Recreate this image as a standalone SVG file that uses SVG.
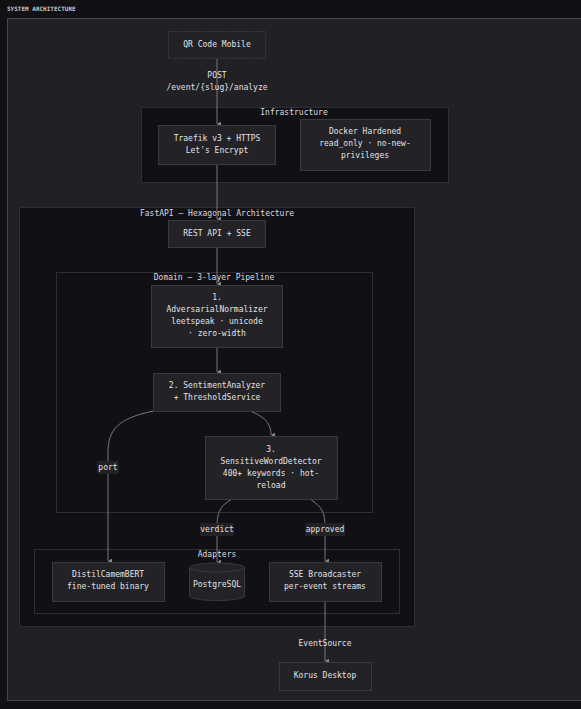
<svg xmlns="http://www.w3.org/2000/svg" width="581" height="709" viewBox="0 0 581 709">
<defs>
<style>
text{font-family:"DejaVu Sans Mono","Liberation Mono",monospace;font-size:8px;fill:#e2e2e6;text-anchor:middle}
.title{font-size:6px;font-weight:bold;text-anchor:start;fill:#c8c8cc}
.cl{fill:#111015;stroke:#2f2e34;stroke-width:1}
.cll{fill:#dcdce0}
.nd{fill:#232227;stroke:#3a393f;stroke-width:1}
.ed{fill:none;stroke:#78777d;stroke-width:1}
.lb{fill:#222126}
</style>
<marker id="ar" viewBox="0 0 6 6" refX="3" refY="5" markerWidth="5" markerHeight="5" orient="auto-start-reverse" markerUnits="userSpaceOnUse">
<path d="M0,0 L6,0 L3,5 Z" fill="#8a898f"/>
</marker>
</defs>
<rect x="0" y="0" width="581" height="709" fill="#111015"/>
<text class="title" x="7" y="11">SYSTEM ARCHITECTURE</text>
<rect x="7.5" y="18.5" width="580" height="682" fill="#212025" stroke="#46454b"/>

<g id="cluster-infrastructure">
<rect class="cl" x="141.5" y="107.5" width="307" height="75"/>
<text class="cll" x="294" y="115">Infrastructure</text>
</g>
<g id="cluster-fastapi">
<rect class="cl" x="19.5" y="207.5" width="395" height="419"/>
<text class="cll" x="217" y="216">FastAPI — Hexagonal Architecture</text>
</g>
<g id="cluster-domain">
<rect class="cl" x="56.5" y="272.5" width="316" height="240"/>
<text class="cll" x="214" y="280">Domain — 3-layer Pipeline</text>
</g>
<g id="cluster-adapters">
<rect class="cl" x="34.5" y="549.5" width="365" height="64"/>
<text class="cll" x="217" y="557">Adapters</text>
</g>

<g id="connectors">
<path class="ed" d="M217,58 L217,124" marker-end="url(#ar)"/>
<text x="217" y="78">POST</text>
<text x="217" y="90">/event/{slug}/analyze</text>
<path class="ed" d="M217,164 L217,219" marker-end="url(#ar)"/>
<path class="ed" d="M217,247 L217,284" marker-end="url(#ar)"/>
<path class="ed" d="M217,347 L217,372" marker-end="url(#ar)"/>
<path class="ed" d="M250,411 C262,416 271,421 271,435" marker-end="url(#ar)"/>
<path class="ed" d="M154,411 C118,418 108,430 108,452 L108,561" marker-end="url(#ar)"/>
<rect class="lb" x="97" y="461" width="22" height="13"/>
<text x="108" y="470">port</text>
<path class="ed" d="M232,499 C220,506 217,512 217,527 L217,562" marker-end="url(#ar)"/>
<rect class="lb" x="200" y="523" width="34" height="13"/>
<text x="217" y="532">verdict</text>
<path class="ed" d="M310,499 C322,507 325,512 325,527 L325,561" marker-end="url(#ar)"/>
<rect class="lb" x="305" y="523" width="40" height="13"/>
<text x="325" y="532">approved</text>
<path class="ed" d="M325,601 L325,661" marker-end="url(#ar)"/>
<text x="325" y="646">EventSource</text>
</g>

<g id="node-qr">
<rect class="nd" x="168.5" y="31.5" width="97" height="27" stroke-dasharray="2,1"/>
<text x="217" y="47">QR Code Mobile</text>
</g>
<g id="node-traefik">
<rect class="nd" x="158.5" y="125.5" width="117" height="39"/>
<text x="217" y="141">Traefik v3 + HTTPS</text>
<text x="217" y="153">Let's Encrypt</text>
</g>
<g id="node-docker">
<rect class="nd" x="300.5" y="119.5" width="130" height="51"/>
<text x="365" y="134">Docker Hardened</text>
<text x="365" y="146">read_only · no-new-</text>
<text x="365" y="158">privileges</text>
</g>
<g id="node-rest">
<rect class="nd" x="168.5" y="220.5" width="97" height="27"/>
<text x="217" y="236">REST API + SSE</text>
</g>
<g id="node-normalizer">
<rect class="nd" x="151.5" y="285.5" width="131" height="62"/>
<text x="217" y="300">1.</text>
<text x="217" y="312">AdversarialNormalizer</text>
<text x="217" y="324">leetspeak · unicode</text>
<text x="217" y="336">· zero-width</text>
</g>
<g id="node-sentiment">
<rect class="nd" x="153.5" y="373.5" width="127" height="38"/>
<text x="217" y="388">2. SentimentAnalyzer</text>
<text x="217" y="400">+ ThresholdService</text>
</g>
<g id="node-detector">
<rect class="nd" x="205.5" y="436.5" width="132" height="63"/>
<text x="271" y="452">3.</text>
<text x="271" y="464">SensitiveWordDetector</text>
<text x="271" y="476">400+ keywords · hot-</text>
<text x="271" y="488">reload</text>
</g>
<g id="node-distil">
<rect class="nd" x="52.5" y="562.5" width="112" height="39"/>
<text x="108" y="577">DistilCamemBERT</text>
<text x="108" y="589">fine-tuned binary</text>
</g>
<g id="node-postgres">
<path class="nd" d="M189.5,567.5 A27.5,4.5 0 0 1 244.5,567.5 L244.5,596 A27.5,4.5 0 0 1 189.5,596 Z"/>
<path fill="none" stroke="#3a393f" d="M189.5,567.5 A27.5,4.5 0 0 0 244.5,567.5"/>
<text x="217" y="587">PostgreSQL</text>
</g>
<g id="node-sse">
<rect class="nd" x="269.5" y="562.5" width="112" height="39"/>
<text x="325" y="577">SSE Broadcaster</text>
<text x="325" y="589">per-event streams</text>
</g>
<g id="node-korus">
<rect class="nd" x="279.5" y="662.5" width="92" height="28"/>
<text x="325" y="678">Korus Desktop</text>
</g>
</svg>
